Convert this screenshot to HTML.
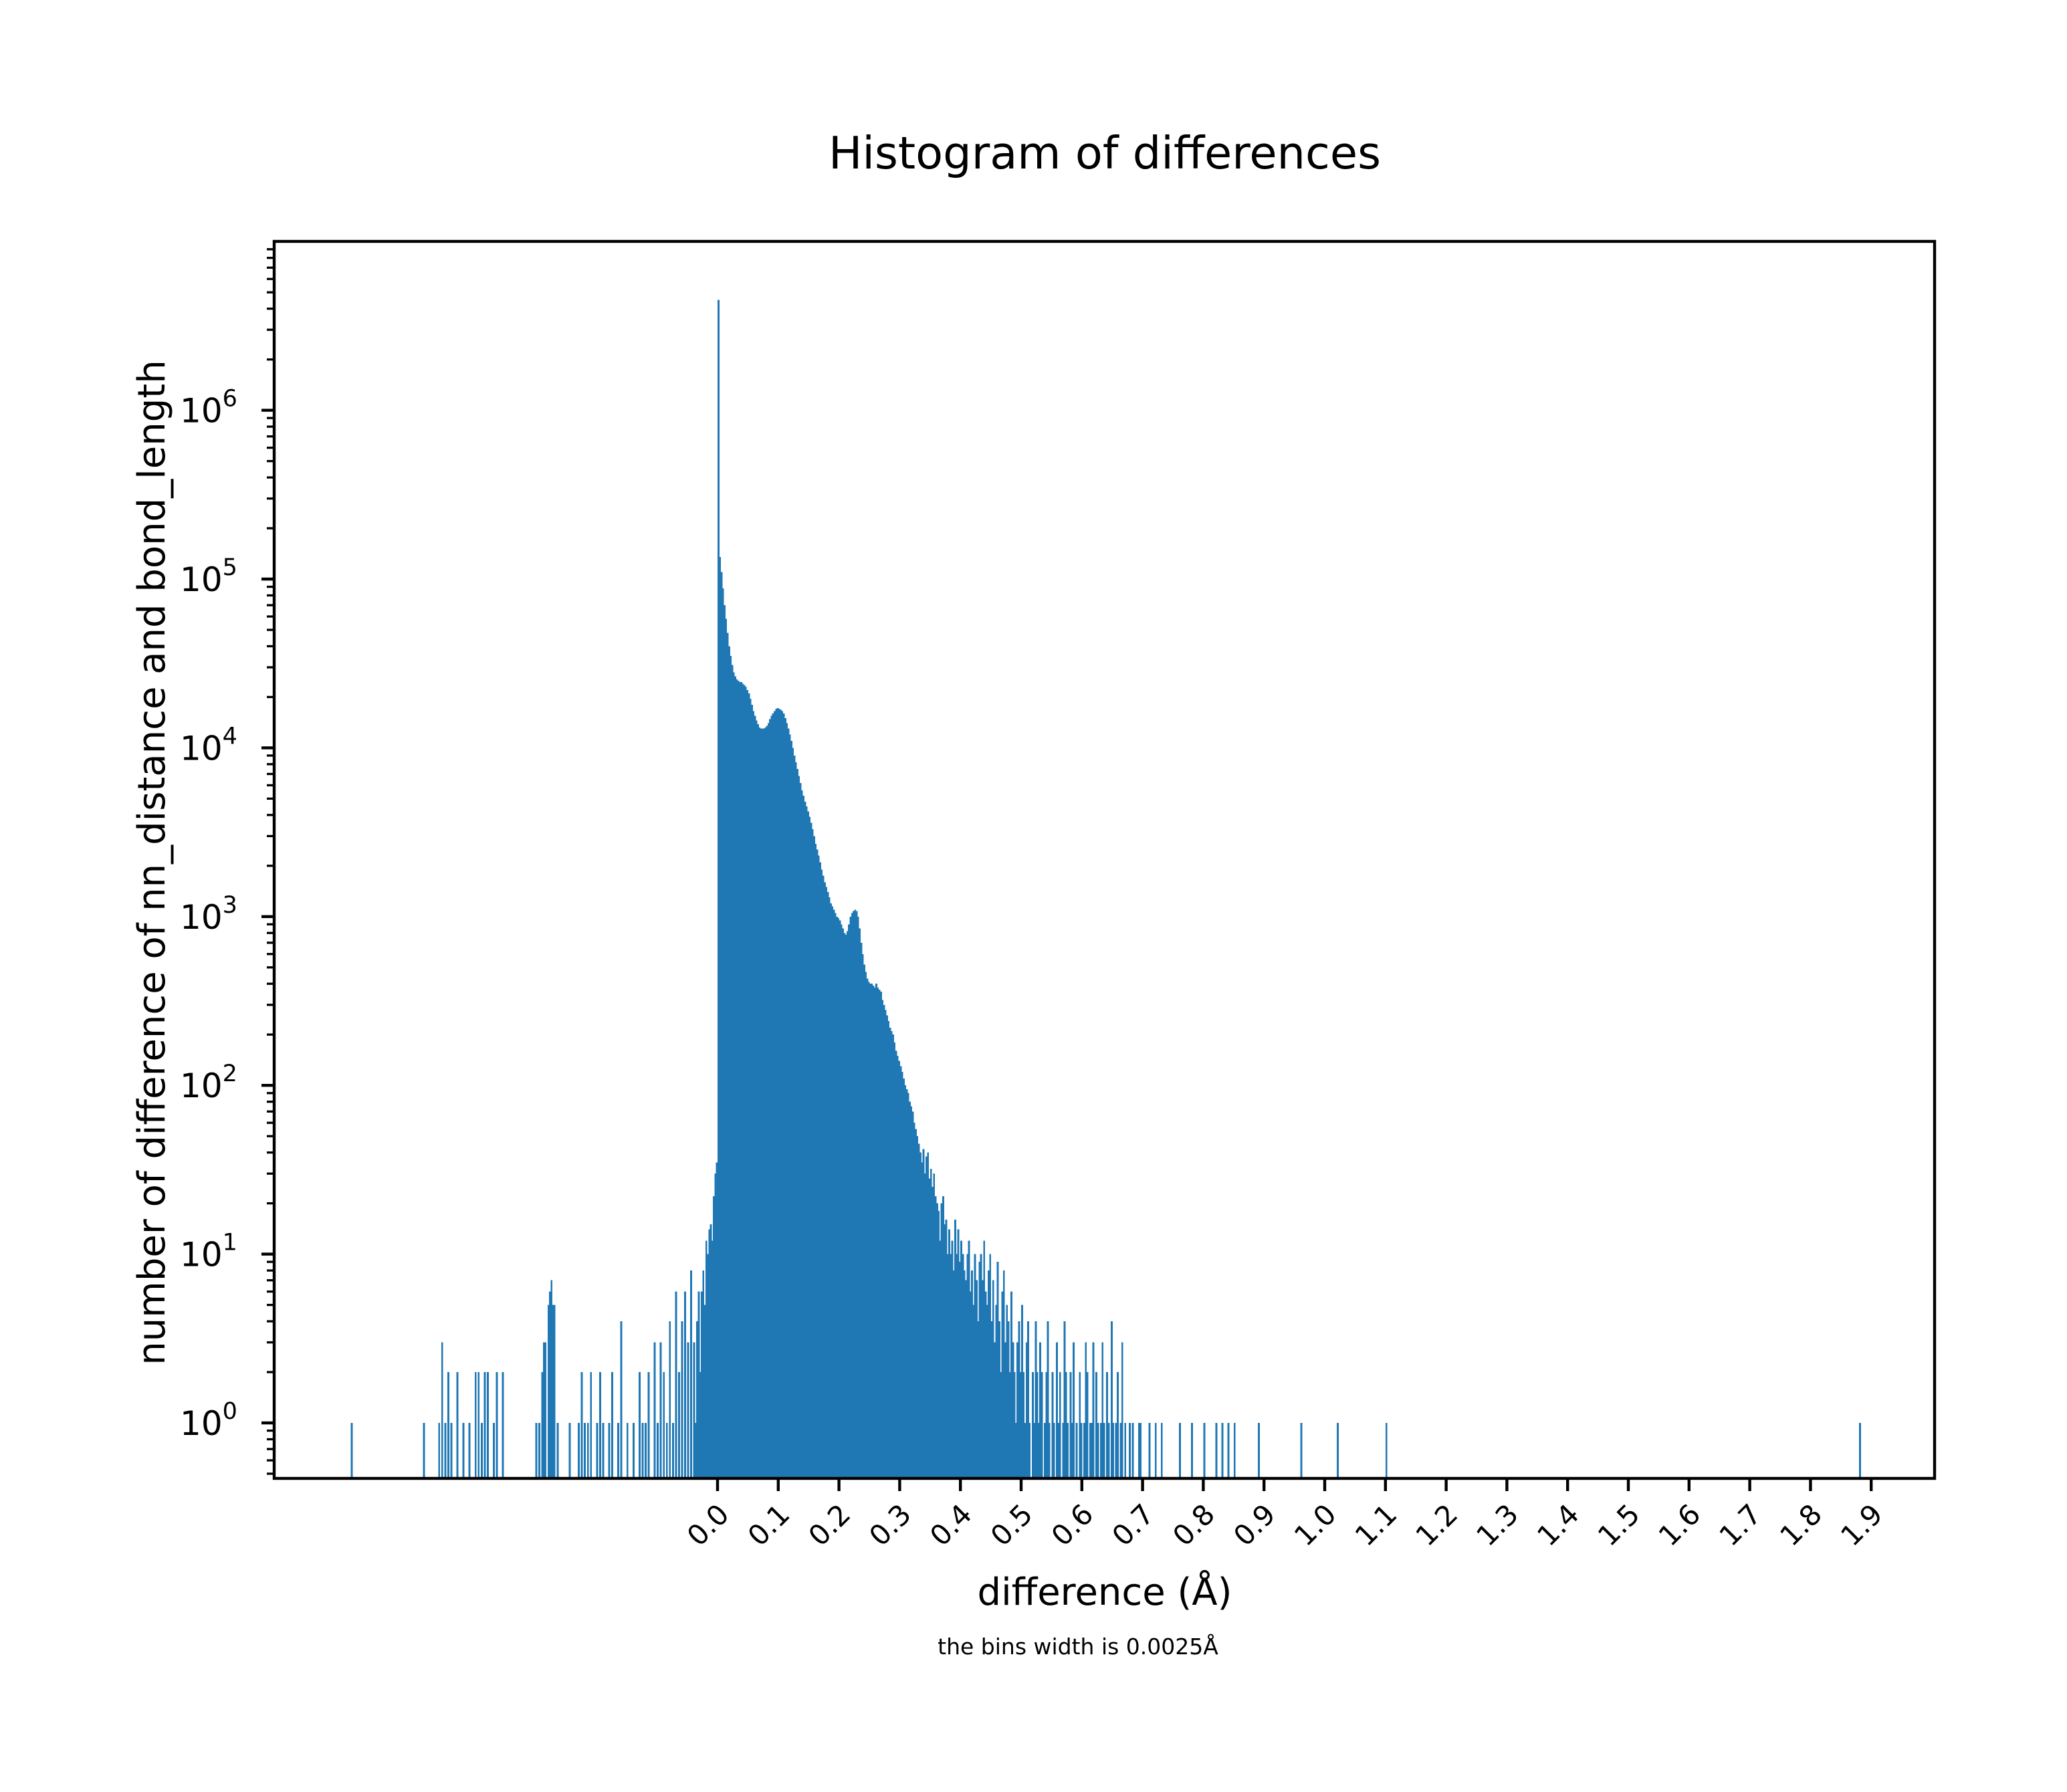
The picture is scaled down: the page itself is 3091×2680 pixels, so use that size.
<!DOCTYPE html>
<html><head><meta charset="utf-8"><style>
html,body{margin:0;padding:0;background:#fff;}
svg{display:block;font-family:"DejaVu Sans","Liberation Sans",sans-serif;}
</style></head><body>
<svg id="chart" width="3091" height="2680" viewBox="0 0 3091 2680" xmlns="http://www.w3.org/2000/svg">
<rect width="3091" height="2680" fill="#fff"/>
<text x="1652" y="252" font-size="67" text-anchor="middle">Histogram of differences</text>
<g id="bars" shape-rendering="crispEdges"></g>
<g id="axes"></g>
<text x="1652" y="2400" font-size="56" text-anchor="middle">difference (Å)</text>
<text x="1612" y="2474" font-size="33" text-anchor="middle">the bins width is 0.0025Å</text>
<text x="0" y="0" font-size="56" text-anchor="middle" transform="translate(246,1290) rotate(-90)">number of difference of nn_distance and bond_length</text>
</svg>
<script>
const binWidth = 0.0025;
const denseStart = -0.04;
const denseCounts = [
3,1,4,6,2,6,8,5,12,10,14,15,12,22,30,35,
4500000,
135000,110000,88000,70000,58000,48000,40000,35000,31000,28000,26500,25500,25000,24500,24500,24000,23500,23000,22000,21000,
19500,18000,16500,15500,14500,13800,13200,13000,13000,13000,13200,13500,14000,14800,15500,16000,16500,17000,17200,17000,
16800,16500,16000,15000,14000,13000,12000,11000,10000,9000,8200,7500,6800,6200,5600,5200,4800,4500,4200,3900,
3600,3300,3000,2700,2500,2300,2100,1900,1750,1600,1500,1400,1300,1200,1150,1100,1050,1000,980,950,
900,850,800,780,820,900,1000,1050,1080,1100,1080,1000,850,700,600,520,470,430,410,400,
400,390,380,400,380,370,360,320,300,280,260,240,220,210,200,180,160,150,140,130,
120,110,100,95,90,80,75,70,60,55,50,45,40,35,42,30,38,40,28,32,
25,30,22,20,18,12,20,22,15,16,10,14,10,12,8,16,10,14,9,12,
10,8,7,10,12,6,8,5,10,7,4,9,10,7,12,6,5,8,10,4,
7,3,5,9,4,2,6,8,3,5,4,2,6,3,2,1,3,4,2,5,
2,1,3,4,1,0,2,1,4,2,1,3,2,0,1,2,4,1,0,2,
1,0,3,1,2,0,1,4,2,1,0,2,1,3,0,1,0,2,1,0,
1,3,2,0,1,1,3,0,2,1,0,1,3,1,0,2,1,0,4,1,
0,1,2,0,1,3,0,1,0,0,1,0,1,0,0,0,1,1,0,0];
const sparseX = [-0.604,-0.485,-0.46,-0.455,-0.45,-0.445,-0.44,-0.43,-0.42,-0.41,-0.40,-0.395,-0.39,-0.385,-0.38,-0.37,-0.365,-0.355,-0.30,-0.295,-0.29,-0.2875,-0.285,-0.28,-0.2775,-0.275,-0.2725,-0.27,-0.265,-0.245,-0.23,-0.225,-0.22,-0.215,-0.21,-0.2,-0.195,-0.19,-0.18,-0.175,-0.165,-0.16,-0.15,-0.14,-0.13,-0.125,-0.12,-0.115,-0.105,-0.1,-0.095,-0.09,-0.085,-0.08,-0.075,-0.07,-0.065,-0.06,-0.055,-0.05,-0.045,
0.71,0.72,0.73,0.76,0.78,0.80,0.82,0.83,0.84,0.85,0.89,0.96,1.02,1.10,1.88];
const sparseCounts = [1,1,1,3,1,2,1,2,1,1,2,2,1,2,2,1,2,2,1,1,2,3,3,5,6,7,5,5,1,1,1,2,1,1,2,1,2,1,1,2,1,4,1,1,2,1,1,2,3,1,3,2,1,4,1,6,2,4,6,3,8,
1,1,1,1,1,1,1,1,1,1,1,1,1,1,1];
const xTicks = [0,0.1,0.2,0.3,0.4,0.5,0.6,0.7,0.8,0.9,1.0,1.1,1.2,1.3,1.4,1.5,1.6,1.7,1.8,1.9];
const xTickLabels = ["0.0","0.1","0.2","0.3","0.4","0.5","0.6","0.7","0.8","0.9","1.0","1.1","1.2","1.3","1.4","1.5","1.6","1.7","1.8","1.9"];
const yDecades = [0,1,2,3,4,5,6];

const L=410,R=2893,T=361,B=2211;
const X0=1073, XS=908;
const Y0=2128, YD=252.4;
function xs(v){return X0+v*XS;}
function ys(c){return Y0-Math.log10(c)*YD;}
const NS="http://www.w3.org/2000/svg";
const bars=document.getElementById('bars');
const axes=document.getElementById('axes');
function drawBar(x,c){
  if(c<=0) return;
  const r=document.createElementNS(NS,'rect');
  const x1=xs(x), x2=xs(x+binWidth), yt=ys(c);
  r.setAttribute('x',x1);r.setAttribute('width',Math.max(x2-x1+0.6,2));
  r.setAttribute('y',yt);r.setAttribute('height',B-yt);
  r.setAttribute('fill','#1f77b4');
  
  
  bars.appendChild(r);
}
denseCounts.forEach((c,i)=>drawBar(denseStart+i*binWidth,c));
sparseX.forEach((x,i)=>drawBar(x,sparseCounts[i]));

function line(x1,y1,x2,y2,w){
  const l=document.createElementNS(NS,'line');
  l.setAttribute('x1',x1);l.setAttribute('y1',y1);l.setAttribute('x2',x2);l.setAttribute('y2',y2);
  l.setAttribute('stroke','#000');l.setAttribute('stroke-width',w);
  axes.appendChild(l);return l;
}
const frame=document.createElementNS(NS,'rect');
frame.setAttribute('x',L);frame.setAttribute('y',T);frame.setAttribute('width',R-L);frame.setAttribute('height',B-T);
frame.setAttribute('fill','none');frame.setAttribute('stroke','#000');frame.setAttribute('stroke-width',4.4);


axes.appendChild(frame);

xTicks.forEach((v,i)=>{
  const x=xs(v);
  const t=line(x,B,x,B+19,4.4);
  
  
  const tx=document.createElementNS(NS,'text');
  tx.textContent=xTickLabels[i];
  tx.setAttribute('font-size','42');
  tx.setAttribute('text-anchor','middle');
  tx.setAttribute('transform','translate('+(x-4)+','+(B+80)+') rotate(-45)');
  
  
  axes.appendChild(tx);
});
yDecades.forEach(d=>{
  const y=ys(Math.pow(10,d));
  const t=line(L-19,y,L,y,4.4);
  
  
  const tx=document.createElementNS(NS,'text');
  tx.setAttribute('x',L-98);tx.setAttribute('y',y+18);tx.setAttribute('font-size','50');tx.setAttribute('text-anchor','middle');
  
  
  tx.innerHTML='10<tspan dy="-24" font-size="35">'+d+'</tspan>';
  axes.appendChild(tx);
});
for(let d=-1;d<=6;d++){
  for(let m=2;m<=9;m++){
    const y=ys(m*Math.pow(10,d));
    if(y<T||y>B) continue;
    const t=line(L-11,y,L,y,3.3);
    
    
  }
}
</script>
</body></html>
